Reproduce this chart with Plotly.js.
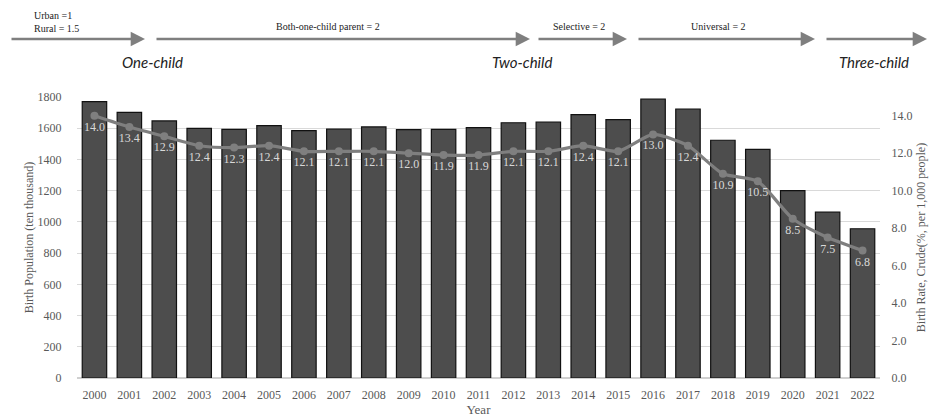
<!DOCTYPE html>
<html>
<head>
<meta charset="utf-8">
<script src="https://cdn.plot.ly/plotly-3.0.1.min.js"></script>
<style>html,body{margin:0;padding:0;background:#fff;}#chart{width:935px;height:418px;}</style>
</head>
<body>
<div id="chart"></div>
<script>
const years = ['2000','2001','2002','2003','2004','2005','2006','2007','2008','2009','2010','2011','2012','2013','2014','2015','2016','2017','2018','2019','2020','2021','2022'];
const birthPopulation = [1771,1702,1647,1599,1593,1617,1584,1594,1608,1591,1592,1604,1635,1640,1687,1655,1786,1723,1523,1465,1200,1062,956];
const birthRate = [14.0,13.4,12.9,12.4,12.3,12.4,12.1,12.1,12.1,12.0,11.9,11.9,12.1,12.1,12.4,12.1,13.0,12.4,10.9,10.5,8.5,7.5,6.8];
const leftTicks = [0,200,400,600,800,1000,1200,1400,1600,1800];
const rightTicks = [0,2,4,6,8,10,12,14];

// policy arrows: [startPx, endPx]
const policyArrows = [[10,145],[155,530],[537,627],[637,815],[825,927]];
const policyNotes = [
  {text:'Urban =1<br>Rural = 1.5', x:32, y:22, align:'left', anchor:'left'},
  {text:'Both-one-child parent = 2', x:328, y:27, align:'center', anchor:'center'},
  {text:'Selective = 2', x:579, y:27, align:'center', anchor:'center'},
  {text:'Universal = 2', x:718, y:27, align:'center', anchor:'center'}
];
const phases = [{text:'One-child', x:152},{text:'Two-child', x:522},{text:'Three-child', x:874}];

const W = 935, H = 418;
const M = {l:77, r:55, t:97, b:40};
const pw = W - M.l - M.r, ph = H - M.t - M.b;
const px = x => (x - M.l) / pw;
const py = y => (H - M.b - y) / ph;

const serif = '"Liberation Serif", "Times New Roman", serif';
const gray = '#595959';

const annotations = [];
policyArrows.forEach(a => {
  annotations.push({
    xref:'paper', yref:'paper', x:px(a[1]), y:py(39),
    ax:-(a[1]-a[0]), ay:0, axref:'pixel', ayref:'pixel',
    text:'', showarrow:true, arrowhead:2, arrowsize:1.1, arrowwidth:2.6,
    arrowcolor:'#7f7f7f', standoff:0, startstandoff:0
  });
});
policyNotes.forEach(n => {
  annotations.push({
    xref:'paper', yref:'paper', x:px(n.x), y:py(n.y), xanchor:n.anchor, yanchor:'middle',
    align:n.align, text:n.text, showarrow:false,
    font:{family:serif, size:10, color:'#222'}
  });
});
phases.forEach(p => {
  annotations.push({
    xref:'paper', yref:'paper', x:px(p.x), y:py(62), xanchor:'center', yanchor:'middle',
    text:'<i>'+p.text+'</i>', showarrow:false,
    font:{family:'Lato, "Open Sans", sans-serif', size:15, color:'#222'}
  });
});

const traces = [
  {
    type:'bar', x:years, y:birthPopulation, name:'Birth Population',
    marker:{color:'#4d4d4d', line:{color:'#111', width:1.2}},
    hoverinfo:'x+y'
  },
  {
    type:'scatter', mode:'lines+markers+text', x:years, y:birthRate, yaxis:'y2',
    name:'Birth Rate',
    line:{color:'#7f7f7f', width:3.2, shape:'spline', smoothing:0.6},
    marker:{color:'#7f7f7f', size:8},
    text:birthRate.map(v => v.toFixed(1)), textposition:'bottom center',
    textfont:{family:serif, size:12, color:'#d9d9d9'}
  }
];

const layout = {
  width:W, height:H,
  margin:M,
  paper_bgcolor:'#fff', plot_bgcolor:'#fff',
  showlegend:false,
  bargap:0.3,
  font:{family:serif, color:gray, size:12},
  xaxis:{
    type:'category', automargin:false, range:[-0.5, years.length - 0.5],
    tickfont:{family:serif, size:12, color:gray},
    ticks:'outside', ticklen:6, tickcolor:'rgba(0,0,0,0)',
    showline:false, showgrid:false, zeroline:false,
    title:{text:'Year', font:{family:serif, size:13, color:gray}, standoff:2}
  },
  yaxis:{
    automargin:false,
    range:[0,1800], tickvals:leftTicks, ticktext:leftTicks.map(String),
    tickfont:{family:serif, size:12, color:gray},
    ticks:'outside', ticklen:12, tickcolor:'rgba(0,0,0,0)',
    showgrid:true, gridcolor:'#d9d9d9', gridwidth:1,
    zeroline:true, zerolinecolor:'#d0d0d0', zerolinewidth:1.5,
    title:{text:'Birth Population (ten thousand)', font:{family:serif, size:12, color:gray}}
  },
  yaxis2:{
    automargin:false,
    overlaying:'y', side:'right', range:[0,15],
    tickvals:rightTicks, ticktext:rightTicks.map(v => v.toFixed(1)),
    tickfont:{family:serif, size:12, color:gray},
    ticks:'outside', ticklen:8, tickcolor:'rgba(0,0,0,0)',
    showgrid:false, zeroline:false,
    title:{text:'Birth Rate, Crude(%, per 1,000 people)', font:{family:serif, size:12, color:gray}}
  },
  annotations:annotations
};

Plotly.newPlot('chart', traces, layout, {displayModeBar:false, staticPlot:true});
</script>
</body>
</html>
